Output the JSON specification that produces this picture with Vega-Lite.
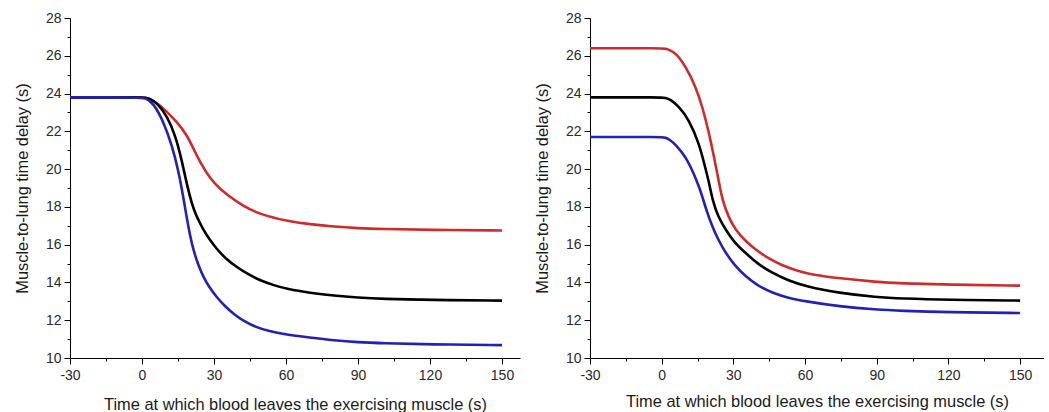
{
  "$schema": "https://vega.github.io/schema/vega-lite/v6.json",
  "padding": {"left": 14, "top": 11, "right": 0, "bottom": 0},
  "background": "white",
  "datasets": {
    "left": [
      {"s": "upper", "t": -30, "v": 23.8}, {"s": "upper", "t": 0, "v": 23.8}, {"s": "upper", "t": 1.5, "v": 23.78}, {"s": "upper", "t": 3.5, "v": 23.7}, {"s": "upper", "t": 6.2, "v": 23.5}, {"s": "upper", "t": 9, "v": 23.2}, {"s": "upper", "t": 14.6, "v": 22.5}, {"s": "upper", "t": 18.75, "v": 21.8}, {"s": "upper", "t": 21.5, "v": 21.06}, {"s": "upper", "t": 24.3, "v": 20.35}, {"s": "upper", "t": 28.5, "v": 19.47}, {"s": "upper", "t": 32.6, "v": 18.94}, {"s": "upper", "t": 36, "v": 18.6}, {"s": "upper", "t": 42, "v": 18.05}, {"s": "upper", "t": 49.3, "v": 17.6}, {"s": "upper", "t": 60.4, "v": 17.25}, {"s": "upper", "t": 70, "v": 17.08}, {"s": "upper", "t": 80, "v": 16.95}, {"s": "upper", "t": 90, "v": 16.87}, {"s": "upper", "t": 100, "v": 16.83}, {"s": "upper", "t": 120, "v": 16.78}, {"s": "upper", "t": 150, "v": 16.75},
      {"s": "middle", "t": -30, "v": 23.8}, {"s": "middle", "t": 0, "v": 23.8}, {"s": "middle", "t": 1.5, "v": 23.78}, {"s": "middle", "t": 3.5, "v": 23.72}, {"s": "middle", "t": 6.25, "v": 23.5}, {"s": "middle", "t": 10.4, "v": 22.82}, {"s": "middle", "t": 13.9, "v": 21.8}, {"s": "middle", "t": 16.7, "v": 20.4}, {"s": "middle", "t": 18.75, "v": 19.15}, {"s": "middle", "t": 20.8, "v": 18.15}, {"s": "middle", "t": 22.5, "v": 17.55}, {"s": "middle", "t": 25.7, "v": 16.75}, {"s": "middle", "t": 28, "v": 16.3}, {"s": "middle", "t": 31.25, "v": 15.75}, {"s": "middle", "t": 35, "v": 15.25}, {"s": "middle", "t": 39.6, "v": 14.8}, {"s": "middle", "t": 44, "v": 14.45}, {"s": "middle", "t": 49.3, "v": 14.1}, {"s": "middle", "t": 55, "v": 13.85}, {"s": "middle", "t": 60.4, "v": 13.65}, {"s": "middle", "t": 70, "v": 13.45}, {"s": "middle", "t": 80, "v": 13.3}, {"s": "middle", "t": 90, "v": 13.2}, {"s": "middle", "t": 100, "v": 13.13}, {"s": "middle", "t": 120, "v": 13.07}, {"s": "middle", "t": 150, "v": 13.04},
      {"s": "lower", "t": -30, "v": 23.8}, {"s": "lower", "t": 0, "v": 23.8}, {"s": "lower", "t": 1.5, "v": 23.75}, {"s": "lower", "t": 4.8, "v": 23.5}, {"s": "lower", "t": 9, "v": 22.5}, {"s": "lower", "t": 12.5, "v": 21.25}, {"s": "lower", "t": 15.3, "v": 19.85}, {"s": "lower", "t": 17.3, "v": 18.45}, {"s": "lower", "t": 18.75, "v": 17.35}, {"s": "lower", "t": 20, "v": 16.5}, {"s": "lower", "t": 21.5, "v": 15.67}, {"s": "lower", "t": 23.5, "v": 14.9}, {"s": "lower", "t": 25.7, "v": 14.26}, {"s": "lower", "t": 28, "v": 13.75}, {"s": "lower", "t": 31.25, "v": 13.2}, {"s": "lower", "t": 34.5, "v": 12.75}, {"s": "lower", "t": 38.2, "v": 12.32}, {"s": "lower", "t": 42.5, "v": 11.95}, {"s": "lower", "t": 47.9, "v": 11.61}, {"s": "lower", "t": 53, "v": 11.42}, {"s": "lower", "t": 59, "v": 11.26}, {"s": "lower", "t": 70, "v": 11.08}, {"s": "lower", "t": 80, "v": 10.93}, {"s": "lower", "t": 90, "v": 10.83}, {"s": "lower", "t": 100, "v": 10.78}, {"s": "lower", "t": 120, "v": 10.72}, {"s": "lower", "t": 150, "v": 10.68}
    ],
    "right": [
      {"s": "upper", "t": -30, "v": 26.4}, {"s": "upper", "t": 0, "v": 26.4}, {"s": "upper", "t": 1.5, "v": 26.38}, {"s": "upper", "t": 3.5, "v": 26.3}, {"s": "upper", "t": 5.85, "v": 26.15}, {"s": "upper", "t": 10, "v": 25.44}, {"s": "upper", "t": 14.2, "v": 24.38}, {"s": "upper", "t": 17, "v": 23.32}, {"s": "upper", "t": 19.8, "v": 21.91}, {"s": "upper", "t": 21.3, "v": 21.0}, {"s": "upper", "t": 22.6, "v": 20.2}, {"s": "upper", "t": 24, "v": 19.3}, {"s": "upper", "t": 25.3, "v": 18.4}, {"s": "upper", "t": 28.1, "v": 17.41}, {"s": "upper", "t": 30.9, "v": 16.79}, {"s": "upper", "t": 35, "v": 16.2}, {"s": "upper", "t": 39.3, "v": 15.73}, {"s": "upper", "t": 45, "v": 15.25}, {"s": "upper", "t": 50.4, "v": 14.9}, {"s": "upper", "t": 57, "v": 14.6}, {"s": "upper", "t": 63, "v": 14.41}, {"s": "upper", "t": 74.2, "v": 14.22}, {"s": "upper", "t": 90, "v": 14.02}, {"s": "upper", "t": 100, "v": 13.95}, {"s": "upper", "t": 120, "v": 13.88}, {"s": "upper", "t": 150, "v": 13.83},
      {"s": "middle", "t": -30, "v": 23.8}, {"s": "middle", "t": 0, "v": 23.8}, {"s": "middle", "t": 1.5, "v": 23.78}, {"s": "middle", "t": 3.5, "v": 23.7}, {"s": "middle", "t": 7.2, "v": 23.32}, {"s": "middle", "t": 11.4, "v": 22.62}, {"s": "middle", "t": 15.6, "v": 21.38}, {"s": "middle", "t": 18, "v": 20.2}, {"s": "middle", "t": 19.8, "v": 19.3}, {"s": "middle", "t": 21.2, "v": 18.4}, {"s": "middle", "t": 23.5, "v": 17.5}, {"s": "middle", "t": 26.8, "v": 16.79}, {"s": "middle", "t": 30.5, "v": 16.1}, {"s": "middle", "t": 35.1, "v": 15.56}, {"s": "middle", "t": 40, "v": 15.0}, {"s": "middle", "t": 46.3, "v": 14.5}, {"s": "middle", "t": 53, "v": 14.1}, {"s": "middle", "t": 60.2, "v": 13.79}, {"s": "middle", "t": 74.2, "v": 13.44}, {"s": "middle", "t": 90, "v": 13.22}, {"s": "middle", "t": 100, "v": 13.15}, {"s": "middle", "t": 120, "v": 13.08}, {"s": "middle", "t": 150, "v": 13.04},
      {"s": "lower", "t": -30, "v": 21.7}, {"s": "lower", "t": 0, "v": 21.7}, {"s": "lower", "t": 1.5, "v": 21.68}, {"s": "lower", "t": 3.5, "v": 21.55}, {"s": "lower", "t": 5.85, "v": 21.29}, {"s": "lower", "t": 10, "v": 20.67}, {"s": "lower", "t": 13.5, "v": 19.75}, {"s": "lower", "t": 15.5, "v": 19.1}, {"s": "lower", "t": 17, "v": 18.56}, {"s": "lower", "t": 19, "v": 17.7}, {"s": "lower", "t": 21.2, "v": 16.97}, {"s": "lower", "t": 23.5, "v": 16.3}, {"s": "lower", "t": 26.8, "v": 15.56}, {"s": "lower", "t": 30.5, "v": 14.9}, {"s": "lower", "t": 35.1, "v": 14.32}, {"s": "lower", "t": 40, "v": 13.85}, {"s": "lower", "t": 46.3, "v": 13.44}, {"s": "lower", "t": 53, "v": 13.18}, {"s": "lower", "t": 60.2, "v": 13.0}, {"s": "lower", "t": 74.2, "v": 12.73}, {"s": "lower", "t": 90, "v": 12.56}, {"s": "lower", "t": 100, "v": 12.5}, {"s": "lower", "t": 120, "v": 12.42}, {"s": "lower", "t": 150, "v": 12.38}
    ]
  },
  "spacing": 14,
  "hconcat": [
    {
      "width": 450,
      "height": 340,
      "data": {"name": "left"},
      "mark": {"type": "line", "interpolate": "basis", "strokeWidth": 2.6},
      "encoding": {
        "x": {"field": "t", "type": "quantitative", "scale": {"domain": [-30, 157.5], "nice": false, "zero": false}, "title": "Time at which blood leaves the exercising muscle (s)", "axis": {"values": [-30, -15, 0, 15, 30, 45, 60, 75, 90, 105, 120, 135, 150], "labelExpr": "datum.value % 30 === 0 ? '' + datum.value : ''", "tickSize": {"condition": {"test": "datum.value % 30 === 0", "value": 6}, "value": 3}, "labelPadding": 4, "titlePadding": 14}},
        "y": {"field": "v", "type": "quantitative", "scale": {"domain": [10, 28], "nice": false, "zero": false}, "title": "Muscle-to-lung time delay (s)", "axis": {"values": [10, 11, 12, 13, 14, 15, 16, 17, 18, 19, 20, 21, 22, 23, 24, 25, 26, 27, 28], "labelExpr": "datum.value % 2 === 0 ? '' + datum.value : ''", "tickSize": {"condition": {"test": "datum.value % 2 === 0", "value": 6}, "value": 3}}},
        "color": {"field": "s", "type": "nominal", "scale": {"domain": ["upper", "middle", "lower"], "range": ["#cf2b2b", "#000000", "#2121b3"]}, "legend": null},
        "order": {"field": "t", "type": "quantitative"}
      }
    },
    {
      "width": 454,
      "height": 340,
      "data": {"name": "right"},
      "mark": {"type": "line", "interpolate": "basis", "strokeWidth": 2.6},
      "encoding": {
        "x": {"field": "t", "type": "quantitative", "scale": {"domain": [-30, 160], "nice": false, "zero": false}, "title": "Time at which blood leaves the exercising muscle (s)", "axis": {"values": [-30, -15, 0, 15, 30, 45, 60, 75, 90, 105, 120, 135, 150], "labelExpr": "datum.value % 30 === 0 ? '' + datum.value : ''", "tickSize": {"condition": {"test": "datum.value % 30 === 0", "value": 6}, "value": 3}, "labelPadding": 4, "titlePadding": 11}},
        "y": {"field": "v", "type": "quantitative", "scale": {"domain": [10, 28], "nice": false, "zero": false}, "title": "Muscle-to-lung time delay (s)", "axis": {"values": [10, 11, 12, 13, 14, 15, 16, 17, 18, 19, 20, 21, 22, 23, 24, 25, 26, 27, 28], "labelExpr": "datum.value % 2 === 0 ? '' + datum.value : ''", "tickSize": {"condition": {"test": "datum.value % 2 === 0", "value": 6}, "value": 3}}},
        "color": {"field": "s", "type": "nominal", "scale": {"domain": ["upper", "middle", "lower"], "range": ["#cf2b2b", "#000000", "#2121b3"]}, "legend": null},
        "order": {"field": "t", "type": "quantitative"}
      }
    }
  ],
  "config": {
    "view": {"stroke": null},
    "font": "Liberation Sans",
    "axis": {
      "grid": false,
      "domainColor": "#000000",
      "domainWidth": 1,
      "tickColor": "#000000",
      "tickWidth": 1,
      "labelFont": "Liberation Sans",
      "labelFontSize": 14,
      "labelColor": "#2a2a2a",
      "labelPadding": 3,
      "titleFont": "Liberation Sans",
      "titleFontSize": 16.4,
      "titleFontWeight": "normal",
      "titleColor": "#1a1a1a",
      "titlePadding": 15,
      "labelFlush": false,
      "labelOverlap": false
    }
  }
}
